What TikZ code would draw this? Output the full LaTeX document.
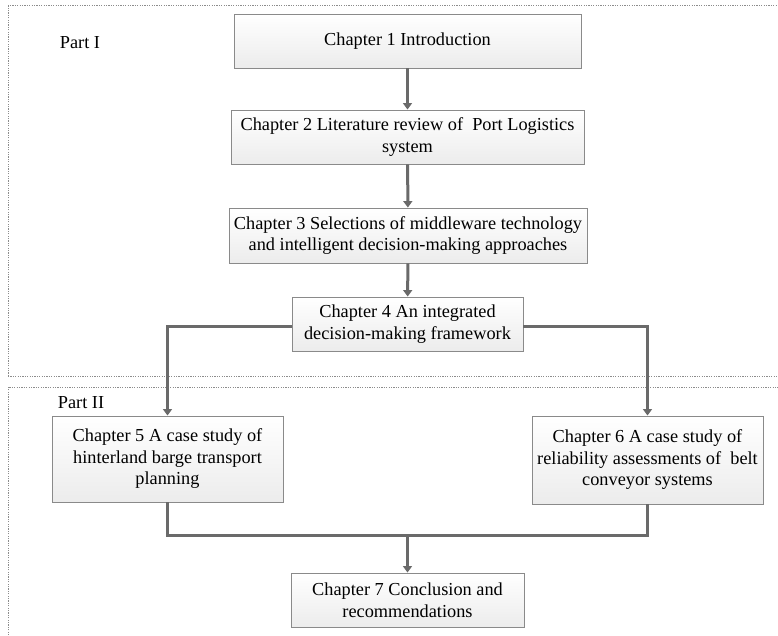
\documentclass[tikz,border=0pt]{standalone}
\usepackage{fontspec}
\setmainfont{Liberation Serif}
\usetikzlibrary{arrows.meta,shadows}
\definecolor{linegray}{HTML}{6A6A6A}
\definecolor{boxedge}{HTML}{8A8A8A}
\definecolor{partedge}{HTML}{8C8C8C}
\begin{document}
\begin{tikzpicture}[x=1pt,y=-1pt,
  chapbox/.style={draw=boxedge, line width=0.9pt, top color=white, bottom color=gray!15,
    drop shadow={shadow xshift=1.2pt, shadow yshift=-1.2pt, fill=gray!45, opacity=0.6},
    align=center, inner sep=2pt, font=\fontsize{18.3}{21.5}\selectfont},
  partframe/.style={draw=partedge, line width=1pt, dash pattern=on 1.2pt off 1.2pt},
  partlabel/.style={font=\fontsize{18.3}{21.5}\selectfont, inner sep=0pt},
  link/.style={draw=linegray, line width=3pt},
  flow/.style={link, -{Triangle[length=6.5pt,width=9pt]}}]
\useasboundingbox (0,0) rectangle (778,636);

% part frames
\draw[partframe] (8,376) -- (8,6) -- (780,6);
\draw[partframe] (8,376) -- (780,376);
\draw[partframe] (8,640) -- (8,387) -- (780,387);
\node[partlabel] (p1) at (80,43) {Part I};
\node[partlabel] (p2) at (81,403) {Part II};

% chapters
\node[chapbox, minimum width=347pt, minimum height=54pt] (c1) at (407.5,41) {Chapter 1 Introduction};
\node[chapbox, minimum width=353pt, minimum height=54pt] (c2) at (407.5,137) {Chapter 2 Literature review of~ Port Logistics\\system};
\node[chapbox, minimum width=358pt, minimum height=55pt] (c3) at (408,235.5) {Chapter 3 Selections of middleware technology\\and intelligent decision-making approaches};
\node[chapbox, minimum width=231pt, minimum height=54pt] (c4) at (407.5,324) {Chapter 4 An integrated\\decision-making framework};
\node[chapbox, minimum width=231pt, minimum height=86pt] (c5) at (167.5,459) {Chapter 5 A case study of\\hinterland barge transport\\planning};
\node[chapbox, minimum width=231pt, minimum height=88pt] (c6) at (647.5,460) {Chapter 6 A case study of\\reliability assessments of~ belt\\conveyor systems};
\node[chapbox, minimum width=233pt, minimum height=54pt] (c7) at (407.5,600) {Chapter 7 Conclusion and\\recommendations};

% connectors
\coordinate (join) at (407.5,535);
\draw[flow] (c1) -- (c2);
\draw[flow] (c2) -- (c3);
\draw[flow] (c3) -- (c4);
\draw[flow] ([yshift=-2pt]c4.west) -| (c5.north);
\draw[flow] ([yshift=-2pt]c4.east) -| (c6.north);
\draw[link] (c5.south) |- (join) -| (c6.south);
\draw[flow] (join) -- (c7.north);
\end{tikzpicture}
\end{document}
